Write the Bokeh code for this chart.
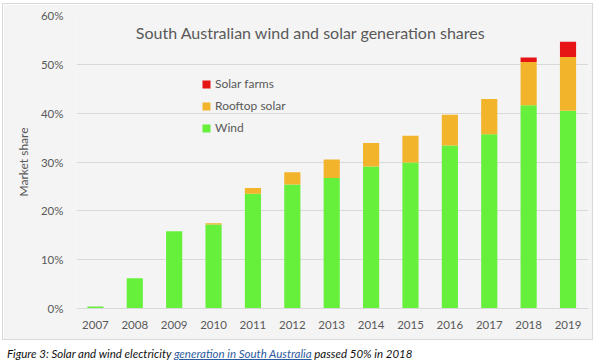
from bokeh.plotting import figure
from bokeh.models import (ColumnDataSource, FixedTicker, PrintfTickFormatter, Legend,
                          LegendItem, Label, Div)
from bokeh.layouts import column
from bokeh.embed import file_html
from bokeh.resources import INLINE

years = [2007, 2008, 2009, 2010, 2011, 2012, 2013, 2014, 2015, 2016, 2017, 2018, 2019]
year_labels = [str(y) for y in years]
wind = [0.4, 6.2, 15.8, 17.2, 23.5, 25.4, 26.7, 29.1, 29.9, 33.4, 35.7, 41.6, 40.5]
rooftop_solar = [0.0, 0.0, 0.0, 0.25, 1.2, 2.5, 3.8, 4.8, 5.5, 6.3, 7.2, 8.9, 11.0]
solar_farms = [0.0, 0.0, 0.0, 0.0, 0.0, 0.0, 0.0, 0.0, 0.0, 0.0, 0.0, 0.9, 3.1]
y_ticks = [0, 10, 20, 30, 40, 50, 60]
title_text = "South Australian wind and solar generation shares"
series_names = ["Wind", "Rooftop solar", "Solar farms"]
colors = ["#66F03C", "#F2B42A", "#E61414"]

FONT = "Lato"
GREY = "#595959"
BG = "#F4F4F4"

src = ColumnDataSource(dict(year=years, wind=wind, rooftop=rooftop_solar, farms=solar_farms))

p = figure(width=591, height=337, x_range=(2006.52, 2019.52), y_range=(0, 60),
           output_backend="svg", toolbar_location=None,
           min_border_left=73, min_border_right=6, min_border_top=11, min_border_bottom=33)
p.background_fill_color = BG
p.border_fill_color = BG
p.outline_line_color = None

renderers = p.vbar_stack(["wind", "rooftop", "farms"], x="year", width=0.41, source=src,
                         color=colors, line_color=None)

p.xgrid.visible = False
p.ygrid.grid_line_color = "#D9D9D9"
p.ygrid.grid_line_width = 1
p.ygrid.ticker = FixedTicker(ticks=y_ticks)

p.yaxis.ticker = FixedTicker(ticks=y_ticks)
p.yaxis.formatter = PrintfTickFormatter(format="%d%%")
p.yaxis.axis_line_color = None
p.yaxis.major_tick_line_color = None
p.yaxis.minor_tick_line_color = None
p.yaxis.major_label_standoff = 7
p.yaxis.major_label_text_font = FONT
p.yaxis.major_label_text_font_size = "11.5px"
p.yaxis.major_label_text_color = GREY
p.yaxis.axis_label = "Market share"
p.yaxis.axis_label_text_font = FONT
p.yaxis.axis_label_text_font_style = "normal"
p.yaxis.axis_label_text_font_size = "12px"
p.yaxis.axis_label_text_color = GREY
p.yaxis.axis_label_standoff = 7

p.xaxis.ticker = FixedTicker(ticks=years)
p.xaxis.major_label_overrides = {y: l for y, l in zip(years, year_labels)}
p.xaxis.axis_line_color = "#D9D9D9"
p.xaxis.major_tick_line_color = None
p.xaxis.minor_tick_line_color = None
p.xaxis.major_label_standoff = 6
p.xaxis.major_label_text_font = FONT
p.xaxis.major_label_text_font_size = "11.5px"
p.xaxis.major_label_text_color = GREY

p.add_layout(Label(x=2012.47, y=56.6, text=title_text, text_align="center",
                   text_baseline="middle", text_font=FONT, text_font_size="16px",
                   text_color=GREY))

items = [LegendItem(label=series_names[i], renderers=[renderers[i]]) for i in [2, 1, 0]]
legend = Legend(items=items, location=(125, 173), orientation="vertical",
                glyph_width=10, glyph_height=10, label_standoff=4, spacing=7,
                padding=0, margin=0, border_line_color=None, background_fill_alpha=0,
                label_text_font=FONT, label_text_font_size="12px", label_text_color=GREY,
                label_height=10)
p.add_layout(legend)

cap = Div(text='<i>Figure 3: Solar and wind electricity '
               '<u style="color:#2E5C9E">generation in South Australia</u> passed 50% in 2018</i>',
          width=591, height=14,
          styles={"font-family": FONT, "font-size": "11.5px", "color": "#111111",
                  "margin-top": "6px"})

p.styles = {"border": "1px solid #D9D9D9"}

layout = column(p, cap, spacing=0, styles={"margin-left": "2px", "margin-top": "3px"})

open("out.html", "w").write(file_html(layout, INLINE))
